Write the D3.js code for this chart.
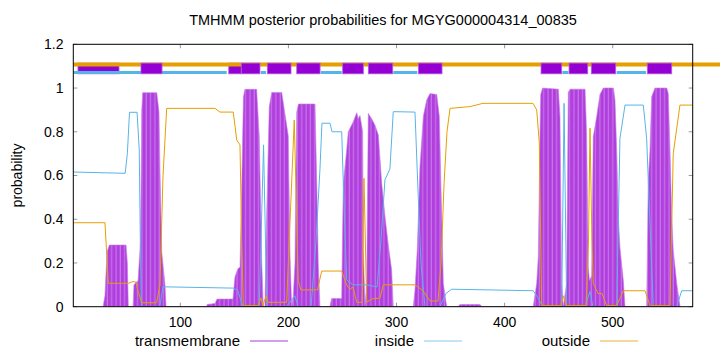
<!DOCTYPE html>
<html>
<head>
<meta charset="utf-8">
<script src="https://d3js.org/d3.v7.min.js"></script>
<style>
  body { margin: 0; background: #fff; }
  text { font-family: "Liberation Sans", Arial, sans-serif; fill: #000; }
</style>
</head>
<body>
<svg id="chart" width="720" height="352"></svg>
<script>
// sequence positions and probabilities
const seqStart = 1, seqEnd = 574;
const xTicks = [100, 200, 300, 400, 500];
const yTicks = [0, 0.2, 0.4, 0.6, 0.8, 1, 1.2];

// transmembrane posterior (position, probability)
const tmPos = [28.5,30.3,32.2,34.3,49.8,51,51.9,56.2,57.1,60.9,63.2,64.3,65.2,78.2,80.3,81.2,82.8,85.8,86.8,
  124.4,124.7,132.1,134,148.7,150.6,153.4,155.2,157,158.4,159.8,170.6,173,175.3,176.8,178.3,180,182.3,184.5,193.8,
  199.9,201.5,203,204.5,206.1,207.7,209.3,224.6,226.2,227.6,229.2,238.4,240,249.3,250,250.8,253.9,255.4,257,260,
  263.2,264.7,266.2,268.7,269.3,270.8,272.4,273.9,277,280.1,283.2,286.3,289.4,292.4,295.5,297,315.5,317.1,319.2,
  321.7,324.8,327.9,331,337.2,339.6,341.8,343.3,346.4,356.8,358.7,377.2,379.1,426.5,429.7,431.2,432.8,433.4,435.1,
  449.7,451.2,452.8,454.3,457.4,458.9,460.5,474.4,475.9,477.4,478.5,480.5,482,485.2,488.2,491.3,500.6,502.1,503.7,
  505.2,506.7,509.8,511.4,531.4,532.9,534.5,536,539.1,550,551.4,553,554.6,556,559.2,562.3];
const tmVal = [0,0.05,0.25,0.282,0.282,0.2,0,0,0.1,0.12,0.3,0.9,0.979,0.979,0.89,0.62,0.25,0.1,0,
  0,0.01,0.015,0.035,0.035,0.137,0.175,0.18,0.6,0.96,0.994,0.994,0.78,0.2,0,0,0.442,0.914,0.98,0.98,
  0.78,0.23,0,0.05,0.2,0.89,0.927,0.927,0.564,0.2,0,0,0.038,0.038,0.3,0.564,0.716,0.8,0.816,0.846,
  0.887,0.86,0.874,0.8,0.26,0,0.1,0.884,0.86,0.83,0.785,0.564,0.41,0.282,0.168,0,0,0.076,0.26,
  0.64,0.87,0.945,0.975,0.97,0.87,0.41,0.107,0,0,0.01,0.01,0,0,0.107,0.23,0.8,0.97,1.0,
  0.995,0.87,0.107,0,0.107,0.98,0.995,0.995,0.79,0.18,0.12,0.14,0.777,0.87,0.97,1.0,1.0,0.945,0.716,
  0.41,0.27,0.12,0,0,0.58,0.716,0.96,1.0,1.0,0.975,0.716,0.41,0.26,0.107,0];

// inside posterior
const inPos = [1,49,51,53,60,62,63,64,81,84,149,153,158,173,177,180,198,206,209,221,225.5,229.2,231,238.5,240.3,
  249.3,250.8,253.9,259.7,272.7,282,285.6,289.3,293.9,297,317.1,320.1,322.6,326.3,340.2,345.7,351,426.5,430.9,435.5,
  452.8,455,457.4,474.4,479,481.7,503.7,506.7,511.4,528.3,531.4,537.5,559.2,563.8,574];
const inVal = [0.616,0.61,0.7,0.889,0.889,0.717,0.3,0,0,0.091,0.085,0.075,0,0,0.74,0,0,0.05,0,0,0.3,0.63,0.839,0.839,0.8,
  0.8,0.564,0.122,0.1,0.1,0.09,0.3,0.58,0.63,0.892,0.89,0.503,0.2,0,0,0.06,0.08,0.073,0.04,0,
  0,0.93,0,0,0.07,0,0,0.77,0.922,0.922,0.77,0,0,0.073,0.073];

// outside posterior
const outPos = [1,30.3,33.4,51.9,56.2,59,60.9,64.3,78.1,81.2,84,87.4,132.1,136.7,149,152.2,155.2,156.8,158.3,171.9,174.6,
  176.5,179.3,181.1,198.4,199.9,205.4,209.1,211.5,226.9,230.8,249.3,253.9,257,259.7,263.2,268.1,269.9,272.4,277,284.7,
  287.8,317.1,324.5,331,338.4,341.2,344,346.7,349.5,367.9,380,426.3,429.7,432.1,434.3,452.2,454.3,457.4,475.3,477.6,
  479,480.8,482,486.4,490.1,494.4,503.7,509.8,529.9,534.5,553,556,562.2,574];
const outVal = [0.384,0.384,0.107,0.107,0.115,0.112,0.07,0.018,0.018,0.1,0.6,0.907,0.907,0.89,0.89,0.762,0.74,0.3,0.005,0.005,0.04,
  0.005,0.05,0.02,0.02,0.2,0.854,0.12,0.077,0.077,0.163,0.163,0.099,0.08,0.09,0.02,0.02,0.587,0.02,0.035,0.04,
  0.1,0.1,0.073,0.026,0.026,0.2,0.564,0.8,0.907,0.915,0.93,0.93,0.9,0.75,0.005,0.005,0.05,0.005,0.005,0.3,
  0.816,0.3,0.107,0.06,0.06,0.005,0.005,0.073,0.073,0.005,0.005,0.7,0.922,0.922];

// predicted topology bar: inside segments and TM boxes
const inSegStart = [1, 83, 174.6, 230.1, 297, 453.4, 503.7];
const inSegEnd   = [63.6, 142.9, 179.3, 249.3, 319.2, 459, 530.8];
const boxStart = [63.6, 156.4, 180.5, 207.7, 250.2, 273.9, 320.2, 433.7, 459.6, 480.2, 532];
const boxEnd   = [83.1, 173.7, 202.4, 229.3, 269.3, 296.5, 342.1, 452.8, 476.9, 502.8, 554.6];
const lowBoxStart = [5.3, 144.8];
const lowBoxEnd   = [43.3, 156.4];

const legendNames = ["transmembrane", "inside", "outside"];

const svg = d3.select("#chart");
const pLeft = 73.3, pRight = 692.7, pTop = 44.3, pBottom = 306.7;

let xScale = d3.scaleLinear().domain([seqStart, seqEnd]).range([pLeft, pRight]);
let yScale = d3.scaleLinear().domain([0, 1.2]).range([pBottom, pTop]);

const purple = "#9400d3", blue = "#56b4e9", orange = "#e69f00";

// stripe pattern for the impulse look of the TM curve
let defs = svg.append("defs");
let pat = defs.append("pattern").attr("id", "stripes")
  .attr("patternUnits", "userSpaceOnUse").attr("width", 4.32).attr("height", 10);
pat.append("rect").attr("width", 4.32).attr("height", 10).attr("fill", "#b13fde");
pat.append("rect").attr("x", 3.2).attr("width", 0.9).attr("height", 10).attr("fill", "#cd86ec");
defs.append("clipPath").attr("id", "plotclip").append("rect")
  .attr("x", pLeft).attr("y", pTop).attr("width", pRight - pLeft).attr("height", pBottom - pTop);

// ticks (inward, mirrored)
let ticks = svg.append("g").attr("stroke", "#999").attr("stroke-width", 1);
yTicks.forEach(t => {
  ticks.append("line").attr("x1", pLeft).attr("x2", pLeft + 4).attr("y1", yScale(t)).attr("y2", yScale(t));
  ticks.append("line").attr("x1", pRight - 4).attr("x2", pRight).attr("y1", yScale(t)).attr("y2", yScale(t));
});
xTicks.forEach(t => {
  ticks.append("line").attr("x1", xScale(t)).attr("x2", xScale(t)).attr("y1", pBottom).attr("y2", pBottom - 4);
  ticks.append("line").attr("x1", xScale(t)).attr("x2", xScale(t)).attr("y1", pTop).attr("y2", pTop + 4);
});

let plot = svg.append("g").attr("clip-path", "url(#plotclip)");

// TM area
let tmData = tmPos.map((p, i) => [p, tmVal[i]]);
let area = d3.area().x(d => xScale(d[0])).y0(yScale(0)).y1(d => yScale(d[1]));
plot.append("path").datum(tmData).attr("d", area)
  .attr("fill", "url(#stripes)").attr("stroke", "#c47be8").attr("stroke-width", 0.6);

let line = d3.line().x(d => xScale(d[0])).y(d => yScale(d[1]));
plot.append("path").datum(inPos.map((p, i) => [p, inVal[i]])).attr("d", line)
  .attr("fill", "none").attr("stroke", blue).attr("stroke-width", 1);
plot.append("path").datum(outPos.map((p, i) => [p, outVal[i]])).attr("d", line)
  .attr("fill", "none").attr("stroke", orange).attr("stroke-width", 1);

// topology bar
lowBoxStart.forEach((s, i) => {
  svg.append("rect").attr("x", xScale(s)).attr("y", yScale(1.114))
    .attr("width", xScale(lowBoxEnd[i]) - xScale(s)).attr("height", yScale(1.065) - yScale(1.114))
    .attr("fill", purple).attr("stroke", "#b060e0").attr("stroke-width", 0.8);
});
svg.append("line").attr("x1", pLeft).attr("x2", 720)
  .attr("y1", yScale(1.108)).attr("y2", yScale(1.108))
  .attr("stroke", orange).attr("stroke-width", 4);
inSegStart.forEach((s, i) => {
  svg.append("line").attr("x1", xScale(s)).attr("x2", xScale(inSegEnd[i]))
    .attr("y1", yScale(1.071)).attr("y2", yScale(1.071))
    .attr("stroke", blue).attr("stroke-width", 3);
});
boxStart.forEach((s, i) => {
  svg.append("rect").attr("x", xScale(s)).attr("y", yScale(1.114))
    .attr("width", xScale(boxEnd[i]) - xScale(s)).attr("height", yScale(1.065) - yScale(1.114))
    .attr("fill", purple).attr("stroke", "#b060e0").attr("stroke-width", 0.8);
});

// border
svg.append("rect").attr("x", pLeft).attr("y", pTop).attr("width", pRight - pLeft).attr("height", pBottom - pTop)
  .attr("fill", "none").attr("stroke", "#000").attr("stroke-width", 1);

// tick labels
yTicks.forEach(t => {
  svg.append("text").attr("x", 63.5).attr("y", yScale(t)).attr("dy", "0.35em")
    .attr("text-anchor", "end").style("font-size", "14px").text(d3.format("~g")(t));
});
xTicks.forEach(t => {
  svg.append("text").attr("x", xScale(t)).attr("y", 322).attr("dy", "0.35em")
    .attr("text-anchor", "middle").style("font-size", "14px").text(t);
});

// title and axis label
svg.append("text").attr("x", (pLeft + pRight) / 2).attr("y", 20).attr("dy", "0.35em")
  .attr("text-anchor", "middle").style("font-size", "14.5px")
  .text("TMHMM posterior probabilities for MGYG000004314_00835");
svg.append("text").attr("transform", "translate(17," + ((pTop + pBottom) / 2) + ") rotate(-90)")
  .attr("dy", "0.35em").attr("text-anchor", "middle").style("font-size", "14px").text("probability");

// legend
const legendTextEnd = [240, 414, 590];
const legendColors = ["#a040d8", "#88c8f0", "#eab040"];
legendNames.forEach((n, i) => {
  svg.append("text").attr("x", legendTextEnd[i]).attr("y", 341).attr("dy", "0.35em")
    .attr("text-anchor", "end").style("font-size", "15px").text(n);
  svg.append("line").attr("x1", legendTextEnd[i] + 10).attr("x2", legendTextEnd[i] + 48)
    .attr("y1", 341).attr("y2", 341).attr("stroke", legendColors[i]).attr("stroke-width", 1);
});
</script>
</body>
</html>
